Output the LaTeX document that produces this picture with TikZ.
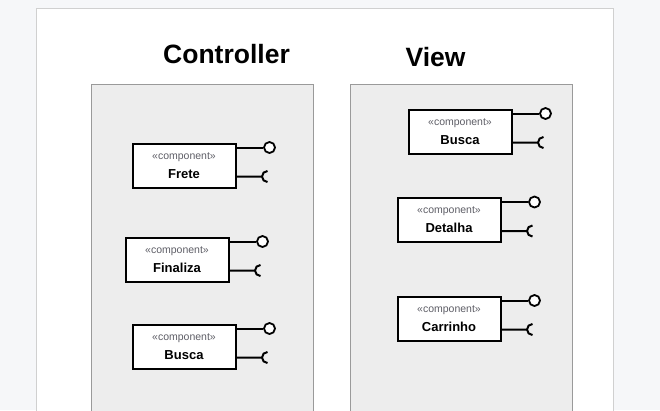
\documentclass[tikz,border=0pt]{standalone}
\usepackage{fontspec}
\setmainfont{Liberation Sans}
\usetikzlibrary{positioning, calc}

\definecolor{pagebg}{HTML}{F6F7F9}
\definecolor{pageline}{HTML}{D0D0D0}
\definecolor{pkgfill}{HTML}{EDEDED}
\definecolor{pkgline}{HTML}{9A9A9A}
\definecolor{stereo}{HTML}{5E5E66}

\tikzset{
  pkg/.style={draw=pkgline, fill=pkgfill, line width=1.2pt, anchor=north west,
              minimum width=222pt, minimum height=360pt, inner sep=0pt},
  comp/.style={draw, fill=white, line width=2pt, anchor=north west,
               minimum width=103pt, minimum height=44pt, inner sep=0pt, align=center,
               font=\fontsize{13}{19}\selectfont\bfseries},
  provided/.style={draw, fill=white, circle, line width=1.8pt,
                   minimum size=11pt, inner sep=0pt},
  wire/.style={line width=2pt},
  title/.style={font=\fontsize{26.5}{30}\selectfont\bfseries}
}

\begin{document}
\begin{tikzpicture}[x=1pt, y=-1pt]
    \useasboundingbox (0,0) rectangle (660,410);
    \clip (0,0) rectangle (660,410);

    % Page
    \fill[pagebg] (0,0) rectangle (660,410);
    \draw[pageline, fill=white, line width=1pt] (36,8) rectangle (613,430);

    % Packages
    \node[pkg] (ctrl) at (91,84) {};
    \node[pkg] (view) at (350,84) {};
    \node[title] (ctrlTitle) at (226.5,54) {Controller};
    \node[title] (viewTitle) at (435.5,57) {View};

    % Components with provided / required interfaces
    \foreach \nm/\lbl/\x/\y in {frete/Frete/131.5/142.5, finaliza/Finaliza/124.5/236.5,
                                buscaC/Busca/131.5/323.5, buscaV/Busca/407.5/108.5,
                                detalha/Detalha/396.5/197, carrinho/Carrinho/396.5/295.5} {
        \node[comp] (\nm) at (\x,\y)
            {{\fontsize{10.5}{12}\selectfont\mdseries\color{stereo}«component»}\\\lbl};
        \node[provided] (\nm P) at ($(\nm.north east)+(33,5)$) {};
        \draw[wire] (\nm.east |- \nm P) -- (\nm P.west);
        \coordinate (\nm R) at ($(\nm.north east)+(25.5,34)$);
        \draw[wire] (\nm.east |- \nm R) -- (\nm R)
            arc[start angle=180, end angle=90, radius=5.5]
            (\nm R) arc[start angle=180, end angle=270, radius=5.5];
    }
\end{tikzpicture}
\end{document}
